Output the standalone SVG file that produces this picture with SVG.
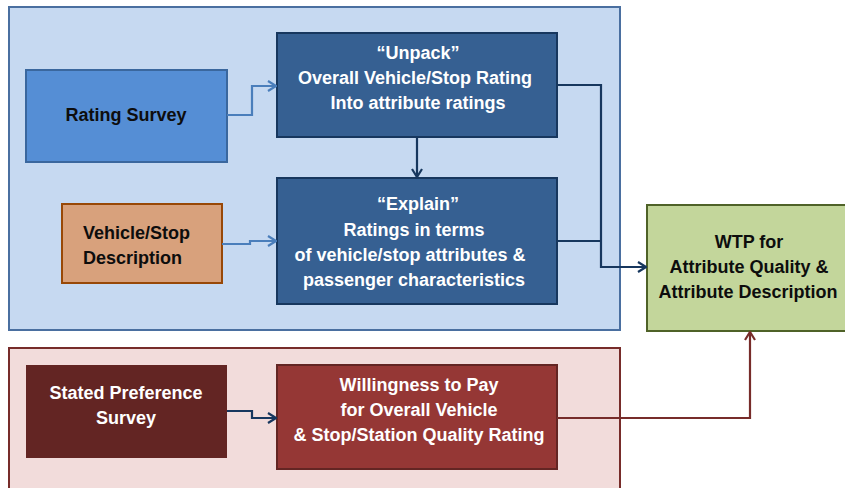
<svg xmlns="http://www.w3.org/2000/svg" width="845" height="488" viewBox="0 0 845 488">
<style>
text{font-family:"Liberation Sans",Arial,sans-serif;font-weight:bold;font-size:18px;text-anchor:middle}
.dk{fill:#0d0d0d}
.wt{fill:#ffffff}
.conn{fill:none;stroke-width:2.2;stroke-linejoin:miter}
</style>
<defs>
<marker id="aL" markerWidth="10" markerHeight="12" refX="9" refY="6" orient="auto" markerUnits="userSpaceOnUse"><path d="M1,1 L9,6 L1,11" fill="none" stroke="#4A7EBB" stroke-width="2.2"/></marker>
<marker id="aN" markerWidth="10" markerHeight="12" refX="9" refY="6" orient="auto" markerUnits="userSpaceOnUse"><path d="M1,1 L9,6 L1,11" fill="none" stroke="#17375E" stroke-width="2.2"/></marker>
<marker id="aR" markerWidth="10" markerHeight="12" refX="9" refY="6" orient="auto" markerUnits="userSpaceOnUse"><path d="M1,1 L9,6 L1,11" fill="none" stroke="#772C2A" stroke-width="2.2"/></marker>
</defs>
<rect width="845" height="488" fill="#ffffff"/>
<g id="blue-panel"><rect x="9" y="7" width="611" height="323" fill="#C6D9F1" stroke="#4A6FA0" stroke-width="2"/></g>
<g id="red-panel"><rect x="9" y="348" width="611" height="150" fill="#F2DCDB" stroke="#772C2A" stroke-width="2"/></g>
<g id="rating-survey"><rect x="26" y="70" width="201" height="92" fill="#558ED5" stroke="#3A679E" stroke-width="2"/><text class="dk" x="126" y="121">Rating Survey</text></g>
<g id="unpack"><rect x="277" y="33" width="280" height="104" fill="#366092" stroke="#17375E" stroke-width="2"/>
<text class="wt" x="418" y="59">“Unpack”</text><text class="wt" x="415" y="84">Overall Vehicle/Stop Rating</text><text class="wt" x="418" y="109">Into attribute ratings</text></g>
<g id="vehicle-stop"><rect x="62" y="204" width="160" height="79" fill="#D8A17C" stroke="#984807" stroke-width="2"/>
<text class="dk" x="83" y="239" style="text-anchor:start">Vehicle/Stop</text><text class="dk" x="83" y="264" style="text-anchor:start">Description</text></g>
<g id="explain"><rect x="277" y="178" width="280" height="126" fill="#366092" stroke="#17375E" stroke-width="2"/>
<text class="wt" x="418" y="210">“Explain”</text><text class="wt" x="414" y="236">Ratings in terms</text><text class="wt" x="410" y="261">of vehicle/stop attributes &amp;</text><text class="wt" x="414" y="286">passenger characteristics</text></g>
<g id="wtp"><rect x="647" y="205" width="200" height="126" fill="#C3D69B" stroke="#4F6228" stroke-width="2"/>
<text class="dk" x="749" y="248">WTP for</text><text class="dk" x="749" y="273">Attribute Quality &amp;</text><text class="dk" x="748" y="298">Attribute Description</text></g>
<g id="stated-pref"><rect x="26" y="365" width="201" height="93" fill="#632523"/>
<text class="wt" x="126" y="399">Stated Preference</text><text class="wt" x="126" y="424">Survey</text></g>
<g id="willingness"><rect x="277" y="365" width="280" height="104" fill="#953735" stroke="#632523" stroke-width="2"/>
<text class="wt" x="419" y="391">Willingness to Pay</text><text class="wt" x="419" y="416">for Overall Vehicle</text><text class="wt" x="419" y="441">&amp; Stop/Station Quality Rating</text></g>
<g id="connectors">
<path class="conn" stroke="#4A7EBB" d="M227,115 H252 V86 H276" marker-end="url(#aL)"/>
<path class="conn" stroke="#4A7EBB" d="M222,244 H250 V241 H276" marker-end="url(#aL)"/>
<path class="conn" stroke="#17375E" d="M417,137 V177" marker-end="url(#aN)"/>
<path class="conn" stroke="#17375E" d="M557,85 H601 V267 H646" marker-end="url(#aN)"/>
<path class="conn" stroke="#17375E" d="M557,241 H601"/>
<path class="conn" stroke="#17375E" d="M227,411 H252 V418 H276" marker-end="url(#aN)"/>
<path class="conn" stroke="#772C2A" d="M557,418 H750 V332" marker-end="url(#aR)"/>
</g>
</svg>
